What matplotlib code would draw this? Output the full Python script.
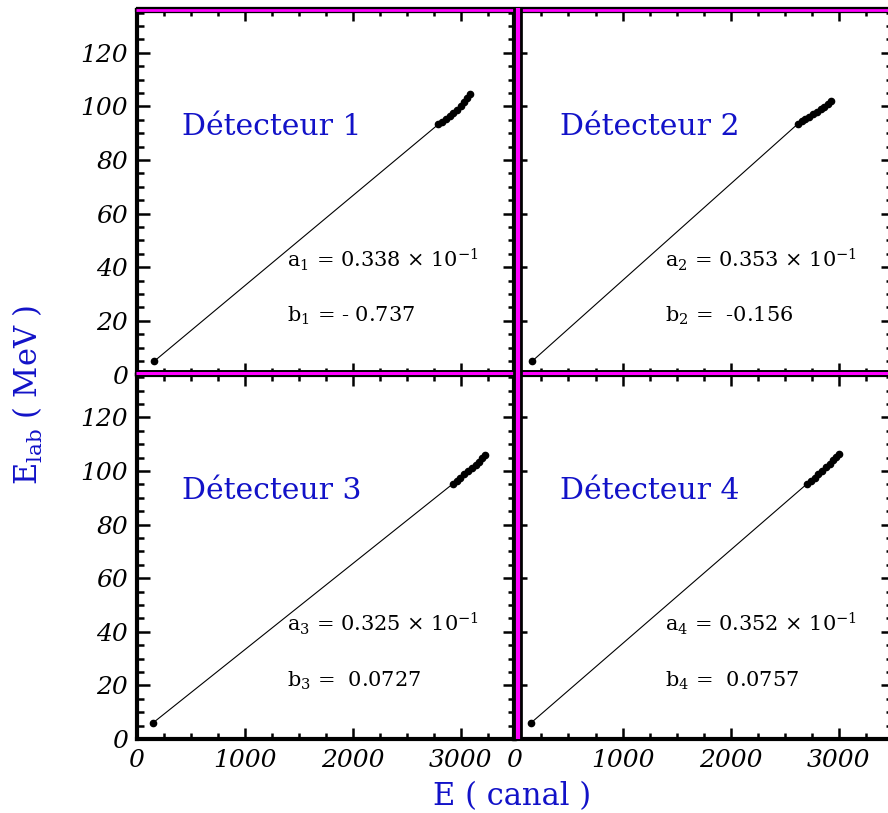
import matplotlib
matplotlib.use('Agg')
import matplotlib.pyplot as plt
from matplotlib.lines import Line2D

# calibration data, one small list per detector (first point = low energy point)
det1_x = [165, 2790, 2825, 2860, 2895, 2930, 2965, 3000, 3030, 3060, 3088]
det1_y = [5.0, 93.3, 94.3, 95.4, 96.5, 97.6, 98.8, 100.1, 101.6, 103.1, 104.6]
det2_x = [165, 2620, 2655, 2690, 2725, 2760, 2795, 2830, 2865, 2898, 2926]
det2_y = [5.0, 93.5, 94.4, 95.3, 96.2, 97.1, 98.0, 98.9, 99.9, 100.9, 101.9]
det3_x = [152, 2925, 2960, 2995, 3030, 3065, 3100, 3135, 3165, 3195, 3220]
det3_y = [6.0, 95.2, 96.3, 97.5, 98.7, 99.9, 101.1, 102.3, 103.5, 104.7, 105.8]
det4_x = [153, 2705, 2740, 2775, 2810, 2845, 2880, 2915, 2945, 2975, 3000]
det4_y = [6.0, 95.2, 96.3, 97.5, 98.8, 100.1, 101.4, 102.7, 104.0, 105.3, 106.4]

titles = ['Détecteur 1', 'Détecteur 2', 'Détecteur 3', 'Détecteur 4']
a_labels = [r'a$_\mathrm{1}$ = 0.338 $\times$ 10$^{\mathrm{-1}}$',
            r'a$_\mathrm{2}$ = 0.353 $\times$ 10$^{\mathrm{-1}}$',
            r'a$_\mathrm{3}$ = 0.325 $\times$ 10$^{\mathrm{-1}}$',
            r'a$_\mathrm{4}$ = 0.352 $\times$ 10$^{\mathrm{-1}}$']
b_labels = [r'b$_\mathrm{1}$ = - 0.737', r'b$_\mathrm{2}$ =  -0.156',
            r'b$_\mathrm{3}$ =  0.0727', r'b$_\mathrm{4}$ =  0.0757']

x_major = [0, 1000, 2000, 3000]
x_minor = [250 * k for k in range(15)]
y_major = [0, 20, 40, 60, 80, 100, 120]
y_minor = [5 * k for k in range(28)]

xs = [det1_x, det2_x, det3_x, det4_x]
ys = [det1_y, det2_y, det3_y, det4_y]

plt.rcParams['font.family'] = 'DejaVu Serif'
plt.rcParams['mathtext.fontset'] = 'dejavuserif'

BLUE = '#1212c8'
W, H = 888, 813

fig = plt.figure(figsize=(W / 100, H / 100), dpi=100)

def box(x0, ytop, x1, ybot):
    return [x0 / W, 1 - ybot / H, (x1 - x0) / W, (ybot - ytop) / H]

rects = [box(136.5, 10, 515, 374.5), box(514.4, 10, 893, 374.5),
         box(136.5, 374.5, 515, 739), box(514.4, 374.5, 893, 739)]

for i, r in enumerate(rects):
    row, col = divmod(i, 2)
    ax = fig.add_axes(r)
    ax.plot(xs[i], ys[i], color='k', lw=0.8)
    ax.plot(xs[i], ys[i], 'o', color='k', ms=4.5)
    ax.set_xlim(0, 3500)
    ax.set_ylim(0, 136)
    ax.set_xticks(x_major)
    ax.set_xticks(x_minor, minor=True)
    ax.set_yticks(y_major)
    ax.set_yticks(y_minor, minor=True)
    ax.tick_params(which='both', direction='in', top=True, right=True, width=1.8,
                   labelsize=18, labelleft=(col == 0), labelbottom=(row == 1))
    ax.tick_params(axis='y', which='major', length=9, pad=6)
    ax.tick_params(axis='y', which='minor', length=5)
    ax.tick_params(axis='x', which='major', length=8, pad=7)
    ax.tick_params(axis='x', which='minor', length=4)
    for lab in ax.get_xticklabels() + ax.get_yticklabels():
        lab.set_fontstyle('italic')
    for s in ax.spines.values():
        s.set_linewidth(3)
    ax.text(0.12, 0.68, titles[i], transform=ax.transAxes, color=BLUE,
            fontsize=21.5, va='center')
    ax.text(0.397, 0.295, a_labels[i], transform=ax.transAxes, fontsize=15,
            va='baseline')
    ax.text(0.397, 0.144, b_labels[i], transform=ax.transAxes, fontsize=15,
            va='baseline')

# magenta framed borders
def band(x0, y0, x1, y1, wb, wm):
    xx = [x0 / W, x1 / W]
    yy = [1 - y0 / H, 1 - y1 / H]
    fig.add_artist(Line2D(xx, yy, color='k', lw=wb, solid_capstyle='butt'))
    fig.add_artist(Line2D(xx, yy, color='#ff00ff', lw=wm, solid_capstyle='butt'))

band(136, 9.7, 888, 9.7, 4.5, 2)
band(136, 373.5, 888, 373.5, 5, 2.2)
band(518, 8, 518, 739, 7, 3)

fig.text(512 / W, 1 - 797 / H, 'E ( canal )', ha='center', va='center',
         fontsize=22, color=BLUE)
fig.text(28 / W, 1 - 395 / H, r'E$_{\mathrm{lab}}$ ( MeV )', rotation=90, ha='center',
         va='center', fontsize=22, color=BLUE)

fig.savefig('out.png', dpi=100)
